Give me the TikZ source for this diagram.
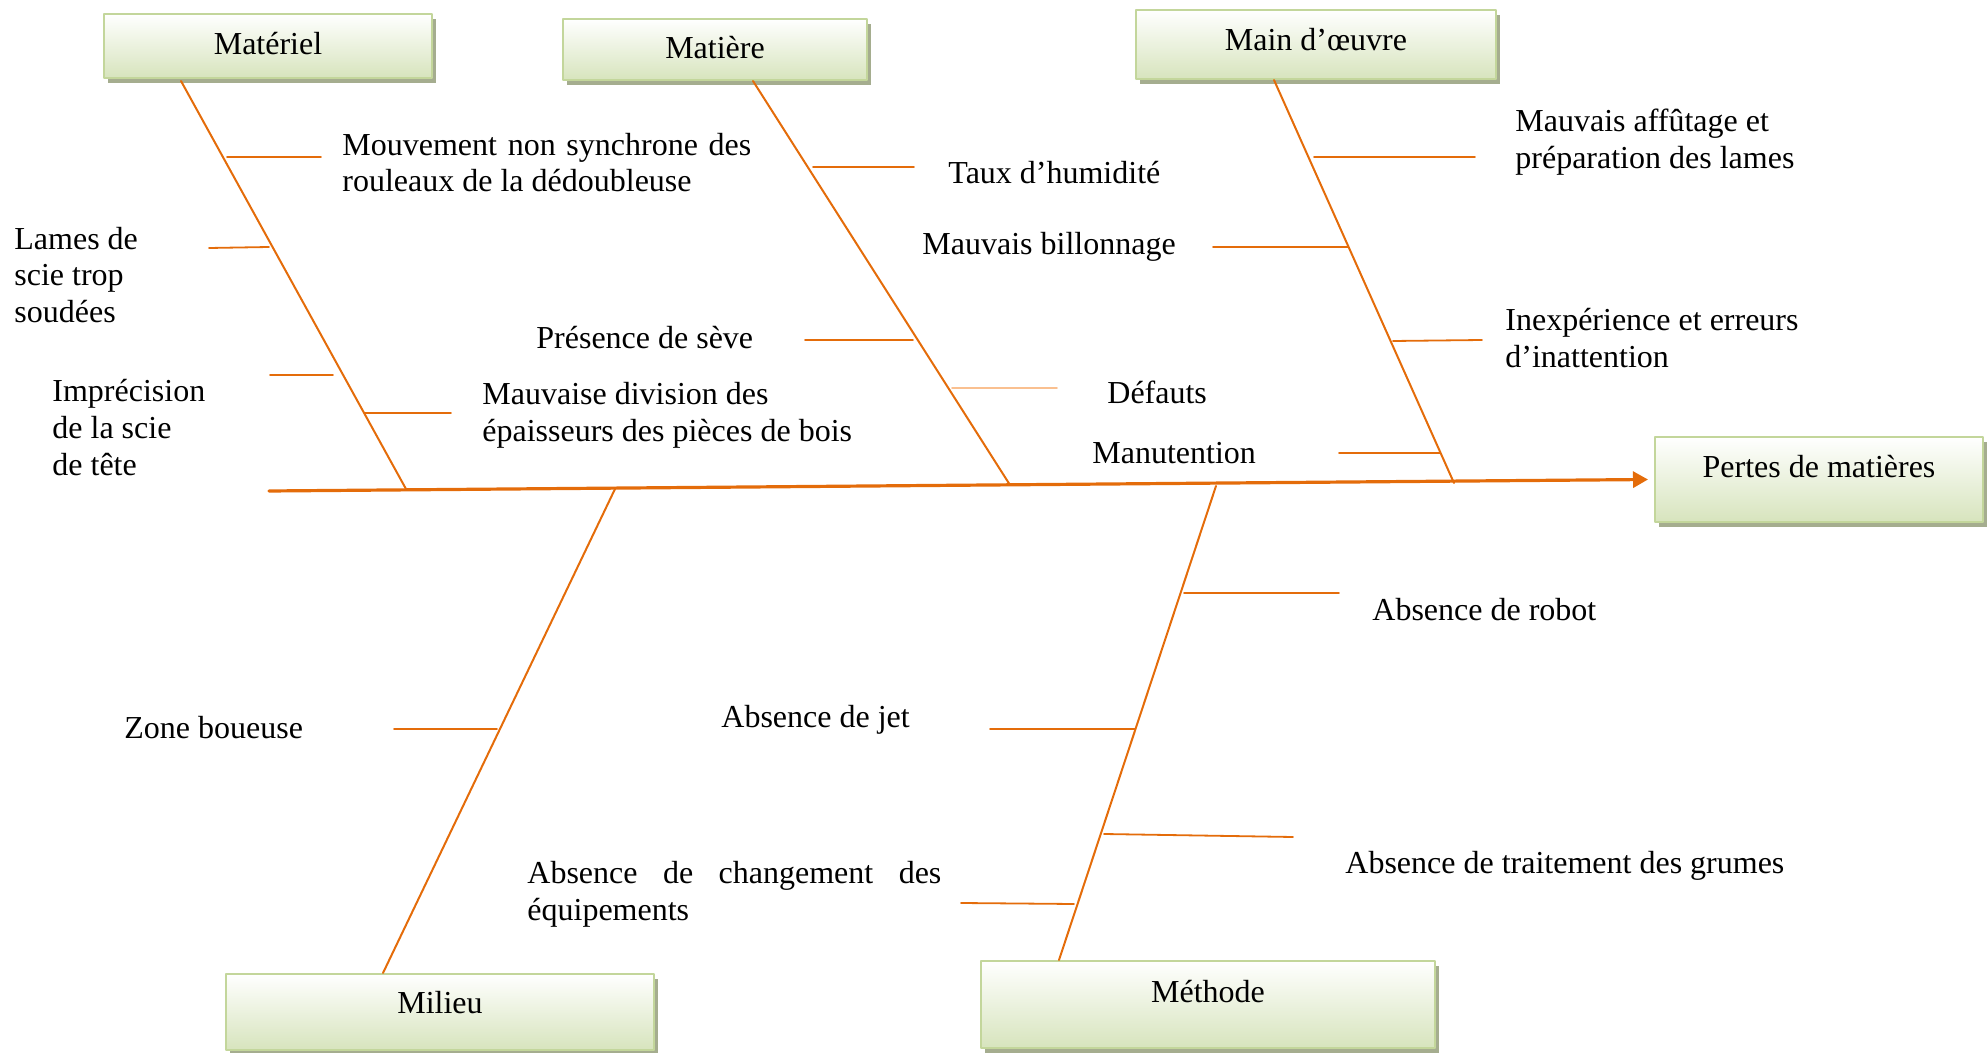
\documentclass[tikz,border=0pt]{standalone}
\usepackage{fontspec}
\setmainfont{Liberation Serif}
\usetikzlibrary{arrows.meta,shadows,calc}

\definecolor{bone}{HTML}{E46C0A}
\definecolor{lightbone}{HTML}{FAC090}
\definecolor{boxline}{HTML}{C3D69B}
\definecolor{boxfill}{HTML}{D7E4BD}
\definecolor{boxshadow}{HTML}{A5AD8F}

\tikzset{
	cause/.style={draw=boxline,line width=1pt,top color=white,bottom color=boxfill,
		drop shadow={shadow xshift=2pt,shadow yshift=-2.5pt,fill=boxshadow,opacity=1},
		font=\fontsize{16}{18.4}\selectfont,text height=11pt,text depth=#1},
	cause/.default=2pt,
	lbl/.style={anchor=west,inner sep=0pt,align=left,font=\fontsize{16}{18.4}\selectfont},
	spine/.style={draw=bone,line width=1.6pt},
	bonestyle/.style={draw=bone,line width=1pt},
	rib/.style={draw=bone,line width=0.9pt}
}

\begin{document}
\begin{tikzpicture}[line cap=round,line join=round,>={Triangle[length=7.5pt,width=8pt]},x=0.5pt,y=-0.5pt]
	\useasboundingbox (0,0) rectangle (1988,1053);
	% boxes
	\node[cause,minimum width=164pt,minimum height=32pt] (materiel) at (268,46) {Matériel};
	\node[cause,minimum width=152pt,minimum height=30.5pt] (matiere) at (715,49.5) {Matière};
	\node[cause=5pt,minimum width=180pt,minimum height=34.5pt] (mainoeuvre) at (1316,44.5) {Main d’œuvre};
	\node[cause=13pt,minimum width=164pt,minimum height=42.5pt] (pertes) at (1819,479.5) {Pertes de matières};
	\node[cause=10pt,minimum width=214pt,minimum height=38pt] (milieu) at (440,1012) {Milieu};
	\node[cause=13pt,minimum width=227pt,minimum height=43.5pt] (methode) at (1208,1004.5) {Méthode};
	% spine
	\coordinate (tail) at (269,491);
	\draw[spine,->] (tail) -- ([xshift=-3pt]pertes.west);
	% bones
	\coordinate (f1) at (406,489);
	\coordinate (f2) at (1010,485);
	\coordinate (f3) at (1454,483);
	\coordinate (f4) at (615,489);
	\coordinate (f5) at (1216,486);
	\draw[bonestyle] ($(materiel.south)+(-87,2)$) -- (f1);
	\draw[bonestyle] ($(matiere.south)+(38,0)$) -- (f2);
	\draw[bonestyle] ($(mainoeuvre.south)+(-42,0)$) -- (f3);
	\draw[bonestyle] ($(milieu.north)+(-57,0)$) -- (f4);
	\draw[bonestyle] ($(methode.north)+(-149,0)$) -- (f5);
	% ribs
	\foreach \xa/\ya/\xb/\yb in {227/157/321/157,209/248/269/247,270/375/333/375,365/413/451/413,
		813/167/914/167,805/340/913/340,
		1314/157/1475/157,1213/247/1348/247,1393/341/1482/340,1339/453/1440/453,
		394/729/497/729,
		1184/593/1339/593,990/729/1135/729,1104/834/1293/837,961/903/1074/904}
	\draw[rib] (\xa,\ya) -- (\xb,\yb);
	\draw[rib,draw=lightbone] (952,388) -- (1057,388);
	% labels
	\node[lbl] (mouvement) at (342,162.5) {\makebox[204.5pt][s]{Mouvement non synchrone des}\\rouleaux de la dédoubleuse};
	\node[lbl] (lames) at (14,275) {Lames de\\scie trop\\soudées};
	\node[lbl] (imprecision) at (52,427.5) {Imprécision\\de la scie\\de tête};
	\node[lbl] (division) at (482,415) {Mauvaise division des\\épaisseurs des pièces de bois};
	\node[lbl] (humidite) at (948,173) {Taux d’humidité};
	\node[lbl] (billonnage) at (922,247) {Mauvais billonnage};
	\node[lbl] (seve) at (536,338) {Présence de sève};
	\node[lbl] (defauts) at (1107,392) {Défauts};
	\node[lbl] (manutention) at (1092,453) {Manutention};
	\node[lbl] (affutage) at (1515,142) {Mauvais affûtage et\\préparation des lames};
	\node[lbl] (inexperience) at (1505,338) {Inexpérience et erreurs\\d’inattention};
	\node[lbl] (robot) at (1372,610) {Absence de robot};
	\node[lbl] (jet) at (721,720) {Absence de jet};
	\node[lbl] (traitement) at (1345,866) {Absence de traitement des grumes};
	\node[lbl] (changement) at (527,894.5) {\makebox[207pt][s]{Absence de changement des}\\équipements};
	\node[lbl] (boueuse) at (124,728) {Zone boueuse};
\end{tikzpicture}
\end{document}
